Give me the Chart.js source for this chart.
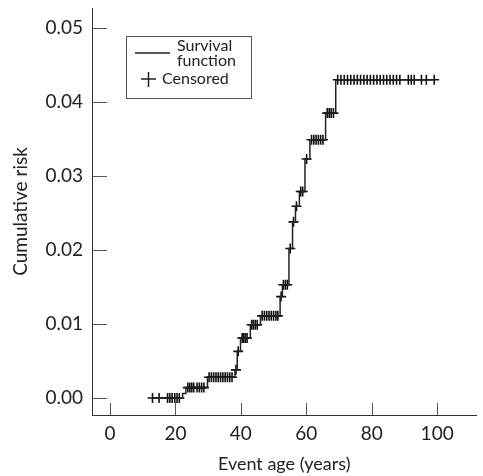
<!DOCTYPE html>
<html lang="en">
<head>
<meta charset="UTF-8">
<title>Cumulative risk</title>
<script src="https://cdn.jsdelivr.net/npm/chart.js"></script>
<style>
  html, body { margin: 0; padding: 0; background: #fff; }
</style>
</head>
<body>
<canvas id="chart" width="483" height="476"></canvas>
<script>
    // survival function: age of each event and cumulative risk after it
    const STEP_AGES = [13, 22.2, 23.2, 29.8, 38.2, 38.9, 39.9, 42.9, 46.0, 52.0, 52.7, 54.7, 55.8, 56.7, 57.9, 59.6, 61.1, 65.9, 69.0, 99.1];
    const STEP_RISK = [0, 0.0006, 0.0014, 0.0028, 0.0038, 0.0063, 0.0081, 0.0099, 0.0111, 0.0137, 0.0153, 0.0202, 0.0238, 0.0259, 0.0279, 0.0323, 0.0349, 0.0385, 0.0430, 0.0430];

    // censored observations
    const CENS_AGES = [
        13, 15, 17.6, 18.3, 19.0, 19.8, 20.5, 21.2,
        23.8, 24.4, 25.0, 25.6, 26.6, 27.3, 28.0, 28.7,
        30.3, 31.0, 31.7, 32.4, 33.1, 33.8, 34.5, 35.2, 35.9, 36.6, 37.3,
        38.5, 39.2,
        40.4, 40.9, 41.4, 41.9,
        43.3, 43.8, 44.4, 45.0,
        46.5, 47.2, 47.9, 48.6, 49.3, 50.0, 50.7, 51.3,
        52.3, 53.0, 53.6, 54.2, 55.1, 56.1, 57.0, 58.3, 58.9, 60.1,
        61.6, 62.3, 63.0, 63.7, 64.4, 65.1,
        66.4, 67.0, 67.6, 68.3,
        69.6, 70.6, 71.6, 72.6, 73.6, 74.6, 75.6, 76.6, 77.6, 78.6, 79.6, 80.6, 81.6, 82.6, 83.6, 84.6, 85.6, 86.6, 87.6, 88.6,
        91.2, 92.1, 93.0, 95.2, 96.7, 99.1
    ];
    const CENS_RISK = [
        0, 0, 0, 0, 0, 0, 0, 0,
        0.0014, 0.0014, 0.0014, 0.0014, 0.0014, 0.0014, 0.0014, 0.0014,
        0.0028, 0.0028, 0.0028, 0.0028, 0.0028, 0.0028, 0.0028, 0.0028, 0.0028, 0.0028, 0.0028,
        0.0038, 0.0063,
        0.0081, 0.0081, 0.0081, 0.0081,
        0.0099, 0.0099, 0.0099, 0.0099,
        0.0111, 0.0111, 0.0111, 0.0111, 0.0111, 0.0111, 0.0111, 0.0111,
        0.0137, 0.0153, 0.0153, 0.0153, 0.0202, 0.0238, 0.0259, 0.0279, 0.0279, 0.0323,
        0.0349, 0.0349, 0.0349, 0.0349, 0.0349, 0.0349,
        0.0385, 0.0385, 0.0385, 0.0385,
        0.0430, 0.0430, 0.0430, 0.0430, 0.0430, 0.0430, 0.0430, 0.0430, 0.0430, 0.0430, 0.0430, 0.0430, 0.0430, 0.0430, 0.0430, 0.0430, 0.0430, 0.0430, 0.0430, 0.0430,
        0.0430, 0.0430, 0.0430, 0.0430, 0.0430, 0.0430
    ];

    const X_MIN = -5.5, X_MAX = 112;
    const Y_MIN = -0.0023, Y_MAX = 0.0527;

    const FONT = 'Lato, "Open Sans", sans-serif';
    const INK = '#222';

    // tick marks point into the plot, so draw them ourselves
    const innerTicks = {
        id: 'innerTicks',
        afterDraw(chart) {
            const { ctx, chartArea, scales: { x, y } } = chart;
            ctx.save();
            ctx.strokeStyle = '#555';
            ctx.lineWidth = 1;
            ctx.beginPath();
            y.ticks.forEach(t => {
                const py = Math.round(y.getPixelForValue(t.value)) + 0.5;
                ctx.moveTo(chartArea.left, py);
                ctx.lineTo(chartArea.left + 15, py);
            });
            x.ticks.forEach(t => {
                const px = Math.round(x.getPixelForValue(t.value)) + 0.5;
                ctx.moveTo(px, chartArea.bottom);
                ctx.lineTo(px, chartArea.bottom - 12);
            });
            ctx.stroke();
            ctx.restore();
        }
    };

    // boxed legend inside the plot
    const boxLegend = {
        id: 'boxLegend',
        afterDraw(chart) {
            const ctx = chart.ctx;
            ctx.save();
            ctx.strokeStyle = '#555';
            ctx.lineWidth = 1;
            ctx.strokeRect(126.5, 36.5, 125, 62);

            ctx.strokeStyle = INK;
            ctx.lineWidth = 1.5;
            ctx.beginPath();
            ctx.moveTo(135, 53);
            ctx.lineTo(170, 53);
            // censored marker
            ctx.moveTo(141, 79);
            ctx.lineTo(156, 79);
            ctx.moveTo(148.5, 72);
            ctx.lineTo(148.5, 87);
            ctx.stroke();

            ctx.fillStyle = INK;
            ctx.font = '16px ' + FONT;
            ctx.textBaseline = 'middle';
            ctx.fillText('Survival', 177, 46);
            ctx.fillText('function', 177, 61);
            ctx.fillText('Censored', 162, 79);
            ctx.restore();
        }
    };

    let ctx = document.getElementById('chart');

    let chart = new Chart(ctx, {
        type: 'scatter',
        data: {
            datasets: [
                {
                    label: 'Survival function',
                    data: STEP_AGES.map((a, i) => ({ x: a, y: STEP_RISK[i] })),
                    showLine: true,
                    stepped: true,
                    borderColor: INK,
                    borderWidth: 1.5,
                    pointRadius: 0
                },
                {
                    label: 'Censored',
                    data: CENS_AGES.map((a, i) => ({ x: a, y: CENS_RISK[i] })),
                    pointStyle: 'cross',
                    pointRadius: 5,
                    borderWidth: 1.6,
                    borderColor: '#111',
                    backgroundColor: '#111'
                }
            ]
        },
        options: {
            responsive: false,
            animation: false,
            devicePixelRatio: 1,
            layout: { padding: { top: 8, right: 3, left: 0, bottom: 0 } },
            plugins: {
                legend: { display: false },
                tooltip: { enabled: false }
            },
            scales: {
                x: {
                    type: 'linear',
                    min: X_MIN,
                    max: X_MAX,
                    grid: { display: false, drawTicks: false },
                    border: { display: true, color: '#333', width: 1 },
                    ticks: {
                        stepSize: 20,
                        includeBounds: false,
                        padding: 7,
                        color: INK,
                        font: { family: FONT, size: 19 }
                    },
                    title: {
                        display: true,
                        text: 'Event age (years)',
                        color: INK,
                        font: { family: FONT, size: 18 },
                        padding: { top: 0, bottom: 1 }
                    },
                    afterFit(scale) {
                        scale.height = 61;
                        scale.paddingLeft = 0;
                        scale.paddingRight = 0;
                    }
                },
                y: {
                    min: Y_MIN,
                    max: Y_MAX,
                    grid: { display: false, drawTicks: false },
                    border: { display: true, color: '#333', width: 1 },
                    ticks: {
                        stepSize: 0.01,
                        includeBounds: false,
                        padding: 9,
                        color: INK,
                        font: { family: FONT, size: 19 },
                        callback: v => v.toFixed(2)
                    },
                    title: {
                        display: true,
                        text: 'Cumulative risk',
                        color: INK,
                        font: { family: FONT, size: 19 },
                        padding: { top: 9, bottom: 0 }
                    },
                    afterFit(scale) {
                        scale.width = 92;
                        scale.paddingTop = 0;
                        scale.paddingBottom = 0;
                    }
                }
            }
        },
        plugins: [innerTicks, boxLegend]
    });
</script>
</body>
</html>
